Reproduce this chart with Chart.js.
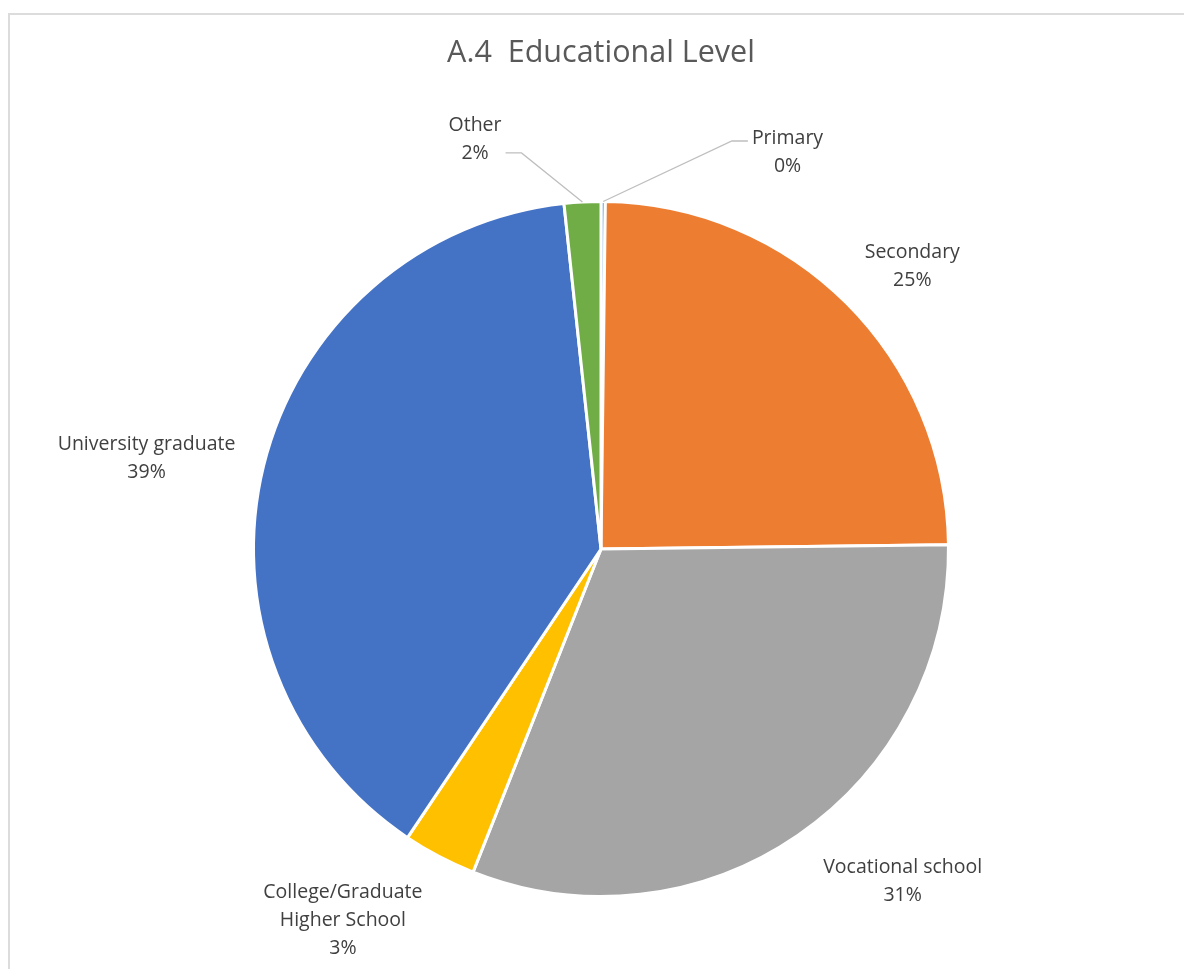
<!DOCTYPE html>
<html>
<head>
<meta charset="utf-8">
<script src="https://cdn.jsdelivr.net/npm/chart.js@4.4.1/dist/chart.umd.min.js"></script>
<style>
  html, body { margin: 0; padding: 0; background: #fff; }
  #frame {
    position: absolute; left: 8px; top: 13px;
    width: 1200px; height: 1000px;
    border: 2px solid #dcdcdc;
  }
  #wrap { position: absolute; left: 0; top: 0; width: 1184px; height: 969px; }
</style>
</head>
<body>
<div id="frame"></div>
<div id="wrap"><canvas id="pieChart"></canvas></div>
<script>
// Educational level shares (percent)
let labels = ['Primary', 'Secondary', 'Vocational school', 'College/Graduate\nHigher School', 'University graduate', 'Other'];
let values = [0.2, 24.6, 31.2, 3.4, 38.9, 1.7];
let colorHex = ['#5B9BD5', '#ED7D31', '#A5A5A5', '#FFC000', '#4472C4', '#70AD47'];

// where each data label sits: angle (deg, clockwise from top) and distance in radii
let labelSpots = [
  { angle: 25, dist: 1.27, leader: { side: 'left', dy: -8 } },
  { angle: 47.5, dist: 1.215 },
  { angle: 137.5, dist: 1.285 },
  { angle: 215, dist: 1.295 },
  { angle: 281.6, dist: 1.335 },
  { angle: 343, dist: 1.24, leader: { side: 'right', dy: 16 } }
];

const FONT = '"Open Sans", "Liberation Sans", sans-serif';

// outside labels with optional elbow leader lines
const outsideLabels = {
  id: 'outsideLabels',
  afterDatasetsDraw(chart) {
    const c = chart.ctx;
    const meta = chart.getDatasetMeta(0);
    const total = values.reduce((a, b) => a + b, 0);
    c.save();
    c.font = '19.5px ' + FONT;
    c.fillStyle = '#404040';
    c.textAlign = 'center';
    c.textBaseline = 'middle';
    meta.data.forEach((arc, i) => {
      const cx = arc.x, cy = arc.y, r = arc.outerRadius;
      const spot = labelSpots[i];
      const a = spot.angle * Math.PI / 180;
      const lx = cx + Math.sin(a) * r * spot.dist;
      const ly = cy - Math.cos(a) * r * spot.dist;
      const lines = labels[i].split('\n');
      lines.push(Math.round(values[i] / total * 100) + '%');
      const lh = 28;
      const top = ly - (lines.length - 1) * lh / 2 + 3;
      let w = 0;
      lines.forEach((t, k) => {
        c.fillText(t, lx, top + k * lh);
        w = Math.max(w, c.measureText(t).width);
      });
      if (spot.leader) {
        const mid = (arc.startAngle + arc.endAngle) / 2;
        const sx = cx + Math.cos(mid) * r;
        const sy = cy + Math.sin(mid) * r;
        const ey = ly + spot.leader.dy;
        const ex = spot.leader.side === 'left' ? lx - w / 2 - 4 : lx + w / 2 + 4;
        const kx = spot.leader.side === 'left' ? ex - 16 : ex + 16;
        c.strokeStyle = '#bfbfbf';
        c.lineWidth = 1.3;
        c.beginPath();
        c.moveTo(sx, sy);
        c.lineTo(kx, ey);
        c.lineTo(ex, ey);
        c.stroke();
      }
    });
    c.restore();
  }
};

// chart title
const titleText = {
  id: 'titleText',
  afterDraw(chart) {
    const c = chart.ctx;
    c.save();
    c.font = '30.5px ' + FONT;
    c.fillStyle = '#595959';
    c.textAlign = 'center';
    c.textBaseline = 'middle';
    c.fillText('A.4  Educational Level', 601, 53);
    c.restore();
  }
};

let ctx = document.getElementById('pieChart').getContext('2d');
let myChart = new Chart(ctx, {
  type: 'pie',
  data: {
    labels: labels,
    datasets: [{
      data: values,
      backgroundColor: colorHex,
      borderColor: '#ffffff',
      borderWidth: 3
    }]
  },
  options: {
    responsive: true,
    maintainAspectRatio: false,
    animation: false,
    layout: {
      padding: { left: 252, right: 234, top: 200, bottom: 71 }
    },
    plugins: {
      legend: { display: false },
      tooltip: { enabled: false },
      title: { display: false }
    }
  },
  plugins: [outsideLabels, titleText]
});
</script>
</body>
</html>
